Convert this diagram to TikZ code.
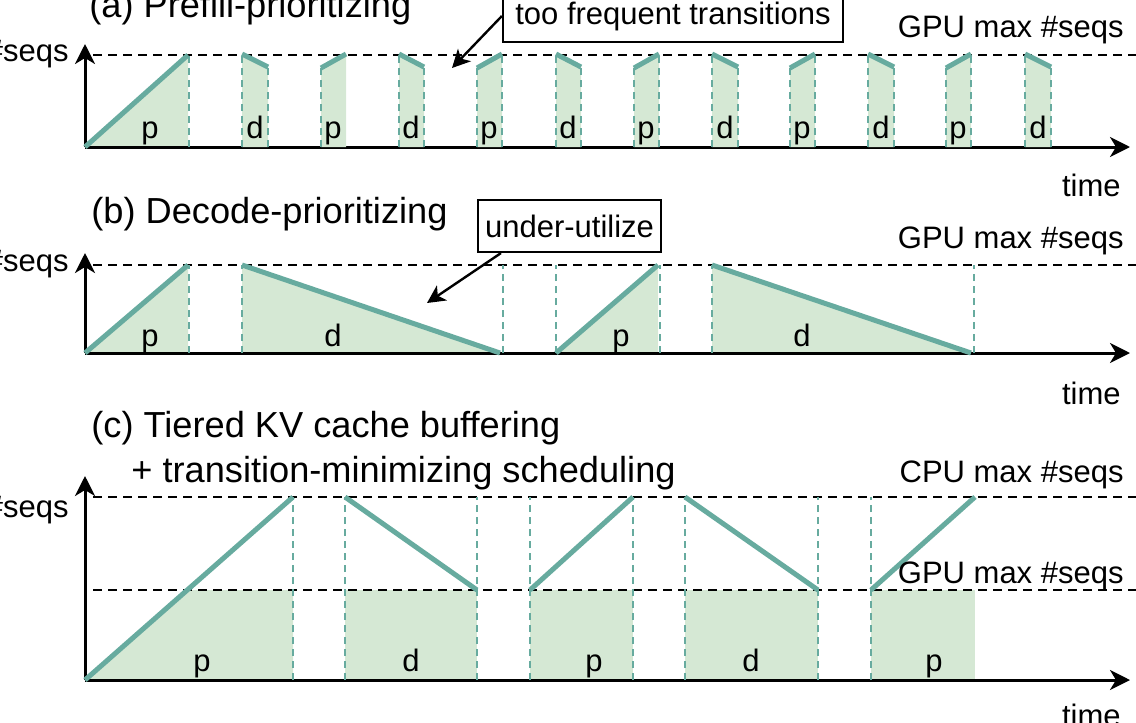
\documentclass[tikz,border=0pt]{standalone}
\usepackage{fontspec}
\setmainfont{Liberation Sans}
\usetikzlibrary{positioning,arrows.meta}
\definecolor{seqline}{HTML}{67AB9F}
\definecolor{seqfill}{HTML}{D5E8D4}
% short slot of panel (a): left x, right x, left top, right top
\newcommand{\shortslot}[4]{%
  \fill[busy] (#1,147) -- (#1,#3) -- (#2,#4) -- (#2,147) -- cycle;
  \draw[sepline] (#1,147) -- (#1,#3) (#2,147) -- (#2,#4);
  \draw[seqcurve] (#1,#3) -- (#2,#4);}

\begin{document}
\begin{tikzpicture}[
		x=0.5pt, y=-0.5pt,
		every node/.style={inner sep=0pt, font=\fontsize{15.5pt}{18pt}\selectfont},
		paneltitle/.style={anchor=base west, font=\fontsize{18.1pt}{22pt}\selectfont},
		limitlabel/.style={anchor=base east},
		slotlabel/.style={anchor=base},
		notebox/.style={draw, line width=1.1pt, minimum height=26pt},
		busy/.style={fill=seqfill},
		sepline/.style={draw=seqline, line width=1.2pt, dash pattern=on 3.5pt off 2.5pt},
		seqcurve/.style={draw=seqline, line width=2.5pt},
		maxline/.style={line width=1.1pt, dash pattern=on 4.5pt off 3pt},
		timeaxis/.style={line width=1.5pt, -{Stealth[length=10pt,width=10pt,inset=3pt]}},
		pointer/.style={line width=1.2pt, -{Stealth[length=9pt,width=9pt,inset=2.5pt]}}
		]
		\useasboundingbox (0,0) rectangle (1136,723);
		
		% (a) Prefill-prioritizing
		\node[paneltitle] (titleA) at (89,17) {(a) Prefill-prioritizing};
		\fill[busy] (85,147) -- (188,55) -- (188,147) -- cycle;
		\draw[maxline] (93,55) -- (1136,55);
		\draw[timeaxis] (85,147) -- (85,44);
		\draw[timeaxis] (85,147) -- (1130,147);
		\draw[sepline] (189,147) -- (189,55);
		\draw[seqcurve] (85,147) -- (188,55);
		\shortslot{242}{268}{54}{67}
		\fill[busy] (321,147) -- (321,68) -- (346,54) -- (346,147) -- cycle;
		\draw[sepline] (321,147) -- (321,68);
		\draw[seqcurve] (321,68) -- (346,54);
		\shortslot{399}{424}{54}{67}
		\shortslot{477}{502}{68}{54}
		\shortslot{556}{581}{54}{67}
		\shortslot{634}{659}{68}{54}
		\shortslot{712}{738}{54}{67}
		\shortslot{790}{815}{68}{54}
		\shortslot{868}{894}{54}{67}
		\shortslot{946}{971}{68}{54}
		\shortslot{1025}{1051}{54}{67}
		\node[slotlabel] (pA1) at (150,138) {p};
		\node[slotlabel] (dA1) at (255,138) {d};
		\node[slotlabel] (pA2) at (333,138) {p};
		\node[slotlabel] (dA2) at (411,138) {d};
		\node[slotlabel] (pA3) at (489,138) {p};
		\node[slotlabel] (dA3) at (568,138) {d};
		\node[slotlabel] (pA4) at (646,138) {p};
		\node[slotlabel] (dA4) at (725,138) {d};
		\node[slotlabel] (pA5) at (802,138) {p};
		\node[slotlabel] (dA5) at (881,138) {d};
		\node[slotlabel] (pA6) at (958,138) {p};
		\node[slotlabel] (dA6) at (1038,138) {d};
		\node[limitlabel] (seqsA) at (69,61) {\#seqs};
		\node[limitlabel] (gpuA) at (1124,37) {GPU max \#seqs};
		\node[limitlabel] (timeA) at (1121,196) {time};
		\node[notebox, minimum width=170pt] (tooBox) at (673,16) {too frequent transitions};
		\coordinate (tooTip) at (452,68);
		\draw[pointer] (tooBox.west) -- (tooTip);
		
		% (b) Decode-prioritizing
		\node[paneltitle] (titleB) at (91,223) {(b) Decode-prioritizing};
		\fill[busy] (85,353) -- (188,265) -- (188,353) -- cycle;
		\fill[busy] (242,265) -- (500,353) -- (242,353) -- cycle;
		\fill[busy] (556,353) -- (658,265) -- (658,353) -- cycle;
		\fill[busy] (712,265) -- (971,353) -- (712,353) -- cycle;
		\draw[maxline] (93,265) -- (1136,265);
		\draw[timeaxis] (85,353) -- (85,253);
		\draw[timeaxis] (85,353) -- (1130,353);
		\draw[sepline] (189,353) -- (189,265) (242,353) -- (242,265)
			(503,353) -- (503,265) (556,353) -- (556,265)
			(660,353) -- (660,265) (712,353) -- (712,265) (974,353) -- (974,265);
		\draw[seqcurve] (85,353) -- (188,265) (242,265) -- (500,353)
			(556,353) -- (658,265) (712,265) -- (971,353);
		\node[slotlabel] (pB1) at (150,346) {p};
		\node[slotlabel] (dB1) at (333,346) {d};
		\node[slotlabel] (pB2) at (621,346) {p};
		\node[slotlabel] (dB2) at (802,346) {d};
		\node[limitlabel] (seqsB) at (69,271) {\#seqs};
		\node[limitlabel] (gpuB) at (1124,248) {GPU max \#seqs};
		\node[limitlabel] (timeB) at (1121,404) {time};
		\node[notebox, minimum width=91.5pt] (underBox) at (569.5,226) {under-utilize};
		\coordinate (underTip) at (427,303);
		\draw[pointer] ([xshift=12pt]underBox.south west) -- (underTip);
		
		% (c) Tiered KV cache buffering
		\node[paneltitle] (titleC) at (91,437) {(c) Tiered KV cache buffering};
		\node[paneltitle] (titleCsub) at (131,482) {+ transition-minimizing scheduling};
		\fill[busy] (85,680) -- (187.3,590) -- (293,590) -- (293,680) -- cycle;
		\fill[busy] (345,590) rectangle (477,680);
		\fill[busy] (530,590) rectangle (633,680);
		\fill[busy] (685,590) rectangle (818,680);
		\fill[busy] (871,590) rectangle (975,680);
		\draw[maxline] (93,497) -- (1136,497);
		\draw[maxline] (93,590) -- (1136,590);
		\draw[timeaxis] (85,680) -- (85,476);
		\draw[timeaxis] (85,680) -- (1130,680);
		\draw[sepline] (293,680) -- (293,497) (345,680) -- (345,497)
			(477,680) -- (477,497) (530,680) -- (530,497) (633,680) -- (633,497)
			(685,680) -- (685,497) (818,680) -- (818,497) (871,680) -- (871,497);
		\draw[seqcurve] (85,680) -- (293,497) (345,497) -- (477,590)
			(530,590) -- (633,497) (685,497) -- (818,590) (871,590) -- (975,497);
		\node[slotlabel] (pC1) at (202,671) {p};
		\node[slotlabel] (dC1) at (411,671) {d};
		\node[slotlabel] (pC2) at (594,671) {p};
		\node[slotlabel] (dC2) at (751,671) {d};
		\node[slotlabel] (pC3) at (934,671) {p};
		\node[limitlabel] (seqsC) at (69,517) {\#seqs};
		\node[limitlabel] (cpuC) at (1124,482) {CPU max \#seqs};
		\node[limitlabel] (gpuC) at (1124,583) {GPU max \#seqs};
		\node[limitlabel] (timeC) at (1121,726) {time};
	\end{tikzpicture}
\end{document}
